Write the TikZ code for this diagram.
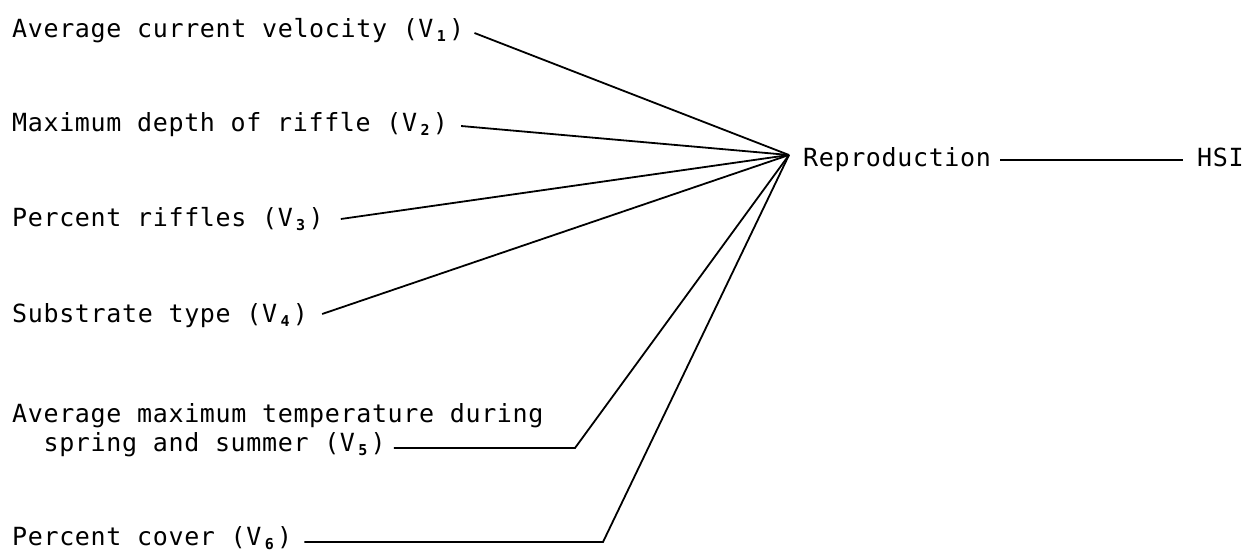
\documentclass[tikz,border=0pt]{standalone}
\usepackage{fontspec}
\newfontfamily\tw[LetterSpace=2.6]{DejaVu Sans Mono}
\newcommand\Vs[1]{V\makebox[15.7pt][c]{\raisebox{-4pt}{\fontsize{15}{15}\selectfont\bfseries #1}}}
\begin{document}
\begin{tikzpicture}[x=1pt,y=-1pt,
  lbl/.style={inner sep=0pt, anchor=base west, font={\tw\fontsize{25}{29}\selectfont}},
  link/.style={line width=1.8pt, line join=miter}]
\useasboundingbox (0,0) rectangle (1244,552);
\node[lbl] (v1) at (12,37) {Average current velocity (\Vs{1})};
\node[lbl] (v2) at (12,131) {Maximum depth of riffle (\Vs{2})};
\node[lbl] (v3) at (12,226) {Percent riffles (\Vs{3})};
\node[lbl] (v4) at (12,322) {Substrate type (\Vs{4})};
\node[lbl] (v5a) at (12,422) {Average maximum temperature during};
\node[lbl] (v5) at (43.4,451) {spring and summer (\Vs{5})};
\node[lbl] (v6) at (12,545) {Percent cover (\Vs{6})};
\node[lbl] (rep) at (803,166) {Reproduction};
\node[lbl] (hsi) at (1197,166) {HSI};
\coordinate (c) at ([shift={(-14pt,11pt)}]rep.base west);
\coordinate (k5) at (575,448);
\coordinate (k6) at (603,542);
\draw[link] ([shift={(10pt,4pt)}]v1.base east) -- (c);
\draw[link] ([shift={(13pt,5pt)}]v2.base east) -- (c);
\draw[link] ([shift={(17pt,7pt)}]v3.base east) -- (c);
\draw[link] ([shift={(14pt,8pt)}]v4.base east) -- (c);
\draw[link] ([shift={(8pt,3pt)}]v5.base east) -- (k5) -- (c);
\draw[link] ([shift={(12pt,3pt)}]v6.base east) -- (k6) -- (c);
\draw[link] ([shift={(9pt,6pt)}]rep.base east) -- ([shift={(-14pt,6pt)}]hsi.base west);
\end{tikzpicture}
\end{document}
